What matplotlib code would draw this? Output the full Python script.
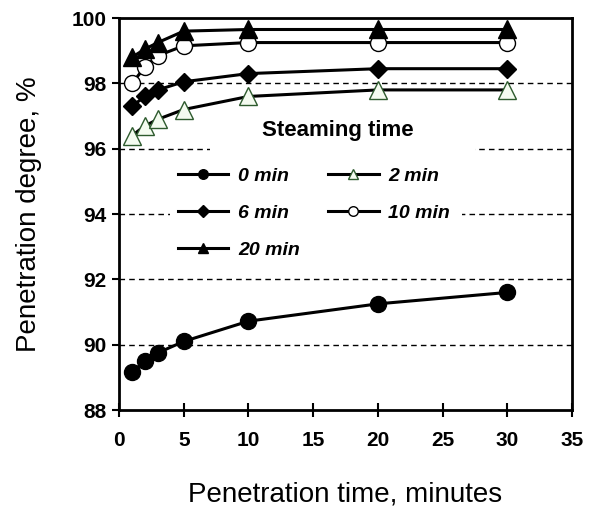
import numpy as np
import matplotlib.pyplot as plt
from matplotlib.patches import Rectangle

plt.rcParams['font.family'] = ['Liberation Sans', 'DejaVu Sans']

# penetration time, minutes
times = [1, 2, 3, 5, 10, 20, 30]

# penetration degree, % for each steaming time
steam_0 = [89.15, 89.5, 89.75, 90.1, 90.72, 91.25, 91.6]
steam_2 = [96.4, 96.7, 96.9, 97.2, 97.6, 97.8, 97.8]
steam_6 = [97.3, 97.6, 97.8, 98.05, 98.3, 98.45, 98.45]
steam_10 = [98.0, 98.5, 98.85, 99.15, 99.25, 99.25, 99.25]
steam_20 = [98.8, 99.05, 99.25, 99.6, 99.65, 99.65, 99.65]

labels = ['0 min', '2 min', '6 min', '10 min', '20 min']

fig = plt.figure(figsize=(5.91, 5.16), dpi=100)
ax = fig.add_axes([0.2014, 0.2054, 0.7665, 0.7596])

# dashed grid lines, partly hidden behind the white legend areas
for yv in [90, 92, 94, 96, 98]:
    ax.axhline(yv, color='black', lw=1, ls=(0, (4, 3)), zorder=0)
ax.add_patch(Rectangle((0.2, 0.658), 0.586, 0.107, transform=ax.transAxes,
                       facecolor='white', edgecolor='none', zorder=1))
ax.add_patch(Rectangle((0.112, 0.37), 0.645, 0.23, transform=ax.transAxes,
                       facecolor='white', edgecolor='none', zorder=1))

lw = 2.2
ax.plot(times, steam_0, color='black', lw=lw, marker='o', ms=11.5, mfc='black', mec='black', label=labels[0], zorder=3)
ax.plot(times, steam_2, color='black', lw=lw, marker='^', ms=13, mfc='#f4fbf0', mec='#2d5a2d', mew=1, label=labels[1], zorder=3)
ax.plot(times, steam_6, color='black', lw=lw, marker='D', ms=9.5, mfc='black', mec='black', label=labels[2], zorder=3)
ax.plot(times, steam_10, color='black', lw=lw, marker='o', ms=11.5, mfc='white', mec='black', mew=1, label=labels[3], zorder=3)
ax.plot(times, steam_20, color='black', lw=lw, marker='^', ms=13, mfc='black', mec='black', label=labels[4], zorder=3)

ax.set_xlim(0, 35)
ax.set_ylim(88, 100)
ax.set_xticks(np.arange(0, 36, 5))
ax.set_yticks(np.arange(88, 101, 2))
ax.tick_params(direction='out', length=5, width=1.5, labelsize=15, pad=4)
ax.tick_params(axis='x', direction='inout', length=10, pad=10)
for lab in ax.get_xticklabels() + ax.get_yticklabels():
    lab.set_fontweight('bold')
for sp in ax.spines.values():
    sp.set_linewidth(2)

ax.set_xlabel('Penetration time, minutes', fontsize=20, labelpad=23)
ax.set_ylabel('Penetration degree, %', fontsize=20, labelpad=21)

ax.text(0.483, 0.714, 'Steaming time', transform=ax.transAxes, ha='center', va='center',
        fontsize=16, fontweight='bold', zorder=4)

# legend filled row by row: 0, 2 / 6, 10 / 20
h, l = ax.get_legend_handles_labels()
order = [0, 2, 4, 1, 3]
leg = ax.legend([h[i] for i in order], [l[i] for i in order], ncol=2,
                loc='upper left', bbox_to_anchor=(0.13, 0.62),
                frameon=False, prop={'weight': 'bold', 'style': 'italic', 'size': 14},
                markerscale=0.6, handlelength=2.6, handletextpad=0.5,
                columnspacing=1.45, labelspacing=1.0, borderpad=0, borderaxespad=0)
leg.set_zorder(4)

fig.savefig('out.png', dpi=100)
